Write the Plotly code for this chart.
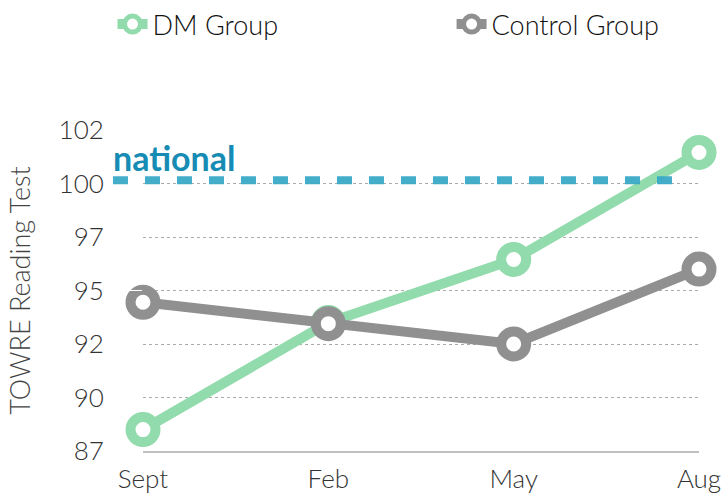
import plotly.graph_objects as go

months = ["Sept", "Feb", "May", "Aug"]
dm_group = [88.5, 93.5, 96.45, 101.45]
control_group = [94.45, 93.45, 92.5, 96.0]
national_value = 100.15
y_tickvals = [87.5, 90, 92.5, 95, 97.5, 100, 102.5]
y_ticktext = ["87", "90", "92", "95", "97", "100", "102"]

GREEN = "#91dbac"
GRAY = "#909090"
TEAL = "#3aa9c8"
FONT = "Lato"

fig = go.Figure()
series = [("DM Group", dm_group, GREEN, "legend"), ("Control Group", control_group, GRAY, "legend2")]
for name, vals, col, leg in series:
    fig.add_trace(go.Scatter(
        x=months, y=vals, name=name, mode="lines+markers",
        line=dict(color=col, width=10),
        marker=dict(size=25, color="white", line=dict(color=col, width=10)),
        cliponaxis=False, legend=leg,
    ))

fig.add_shape(type="line", xref="paper", yref="y",
              x0=-0.054, x1=0.953, y0=national_value, y1=national_value,
              line=dict(color=TEAL, width=8, dash="15px,17px"), opacity=0.95, layer="above")
fig.add_annotation(xref="paper", yref="y", x=-0.058, y=national_value,
                   xanchor="left", yanchor="bottom", yshift=0, showarrow=False,
                   text="<b>national</b>", font=dict(family=FONT, size=34, color="#168cb4"))

legend_common = dict(orientation="h", xanchor="left", xref="container",
                     y=1.0, yref="container", yanchor="top",
                     font=dict(size=27, color="#111111", weight=300), itemwidth=30)

fig.update_layout(
    width=726, height=497,
    margin=dict(l=143, r=27, t=130, b=46),
    plot_bgcolor="white", paper_bgcolor="white",
    font=dict(family=FONT, size=26, color="#333333"),
    showlegend=True,
    legend=dict(x=0.155, **legend_common),
    legend2=dict(x=0.622, **legend_common),
    xaxis=dict(type="category", range=[0, 3], showgrid=False, showline=True,
               linecolor="#c0c0c0", linewidth=2, ticks="outside", ticklen=4, tickcolor="white",
               tickfont=dict(size=26, color="#333333", weight=300), zeroline=False, automargin=False),
    yaxis=dict(range=[87.5, 102.5], tickvals=y_tickvals, ticktext=y_ticktext,
               showgrid=True, gridcolor="#aaaaaa", griddash="dot", gridwidth=1,
               showline=False, zeroline=False, ticks="outside", ticklen=33, tickcolor="white",
               tickfont=dict(size=26, color="#333333", weight=300), automargin=False,
               title=dict(text="TOWRE Reading Test", font=dict(size=27, color="#444444", weight=300), standoff=20)),
)

fig.write_html("out.html", config={"displayModeBar": False},
               post_script="document.body.style.margin='0';document.body.style.overflow='hidden';")
